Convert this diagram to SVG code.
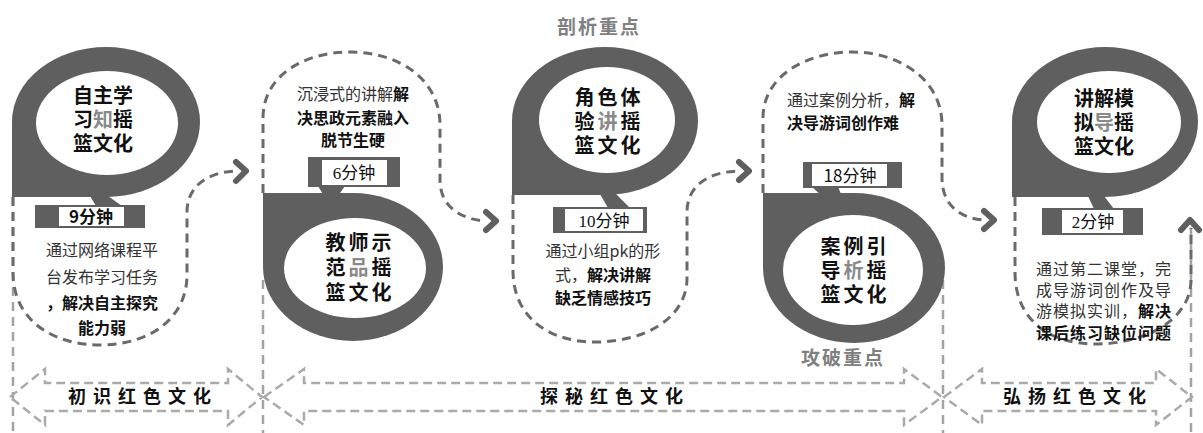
<svg xmlns="http://www.w3.org/2000/svg" width="1203" height="433" viewBox="0 0 1203 433">
<style>
text{font-family:"Noto Sans CJK SC","Noto Sans",sans-serif;}
.pin{fill:#5f5f5f;}
.hole{fill:#fff;}
.title{font-size:20px;font-weight:bold;fill:#111;text-anchor:middle;}
.mid{fill:#8a8a8a;}
.desc{font-size:16px;fill:#333;text-anchor:middle;}
.start{text-anchor:start;}
.b{font-weight:bold;fill:#111;}
.time{font-size:17px;fill:#111;text-anchor:middle;}
.serif{font-family:"Liberation Serif","Noto Sans CJK SC",serif;}
.tbox{fill:#5f5f5f;}
.twhite{fill:#fff;}
.conn{fill:none;stroke:#6a6a6a;stroke-width:3;stroke-dasharray:9 6;}
.chev{fill:none;stroke:#5f5f5f;stroke-width:6;stroke-linecap:round;stroke-linejoin:round;}
.div{fill:none;stroke:#a3a3a3;stroke-width:2.5;stroke-dasharray:9 6;}
.band{fill:none;stroke:#aaaaaa;stroke-width:2.5;stroke-dasharray:9 5;}
.blabel{font-size:18px;font-weight:bold;fill:#111;text-anchor:middle;letter-spacing:7px;}
.key{font-size:19px;font-weight:bold;fill:#808080;text-anchor:middle;letter-spacing:2px;}
</style>

<g id="connectors">
  <path class="div" d="M13 197 V433"/>
  <path class="div" d="M263 280 V433"/>
  <path class="div" d="M943 280 V433"/>
  <path class="div" d="M1191 228 V433"/>
  <path class="conn" d="M13 197 L13 272 C13 322 55 345 100 345 C150 345 187 318 187 275 L187 212 C187 186 208 172 236 171"/>
  <polyline class="chev" points="236,162 246,171 236,181"/>
  <path class="conn" d="M263 193 L263 118 C263 75 305 52 350 52 C400 52 440 80 440 125 L440 180 C440 206 460 219 485 221"/>
  <polyline class="chev" points="486,212 496,221 486,230"/>
  <path class="conn" d="M513 195 L513 270 C513 320 552 342 595 342 C645 342 687 318 687 278 L687 212 C687 186 708 172 738 171"/>
  <polyline class="chev" points="739,162 749,171 739,180"/>
  <path class="conn" d="M763 193 L763 118 C763 75 808 52 852 52 C900 52 942 80 942 125 L942 178 C942 205 960 218 983 220"/>
  <polyline class="chev" points="984,211 994,220 984,229"/>
  <path class="conn" d="M1015 197 L1015 272 C1015 322 1052 344 1095 344 C1148 344 1191 318 1191 280 L1191 228"/>
  <polyline class="chev" points="1181,230 1190,220 1199,230"/>
  <path class="band" d="M10 397 L45 369 L45 383 L228 383 L228 369 L262 397 L228 425 L228 411 L45 411 L45 425 Z"/>
  <path class="band" d="M264 397 L304 369 L304 383 L904 383 L904 369 L942 397 L904 425 L904 411 L304 411 L304 425 Z"/>
  <path class="band" d="M944 397 L982 369 L982 383 L1156 383 L1156 369 L1192 397 L1156 425 L1156 411 L982 411 L982 425 Z"/>
</g>

<g id="stage1">
  <text class="blabel" x="143" y="403">初识红色文化</text>
</g>
<g id="stage2">
  <text class="blabel" x="615" y="403">探秘红色文化</text>
</g>
<g id="stage3">
  <text class="blabel" x="1078" y="403">弘扬红色文化</text>
</g>

<g id="key1">
  <text class="key" x="599" y="34">剖析重点</text>
</g>
<g id="key2">
  <text class="key" x="843" y="365">攻破重点</text>
</g>

<g id="node1">
  <path class="pin" d="M12 122 L12 197 L106 197 A94 75 0 1 0 12 122 Z"/>
  <ellipse class="hole" cx="107" cy="123" rx="71" ry="52"/>
  <text class="title" x="103" y="103">自主学</text>
  <text class="title" x="103" y="127">习<tspan class="mid">知</tspan>摇</text>
  <text class="title" x="103" y="151">篮文化</text>
  <polygon class="tbox" points="90,196 108,196 122,206 96,206"/>
  <rect class="tbox" x="35" y="205" width="110" height="23"/>
  <rect class="twhite" x="59" y="207" width="65" height="19"/>
  <text class="time" x="91" y="223" font-weight="bold">9分钟</text>
  <text class="desc" x="102" y="256">通过网络课程平</text>
  <text class="desc" x="102" y="283">台发布学习任务</text>
  <text class="desc b" x="102" y="309">，解决自主探究</text>
  <text class="desc b" x="102" y="334">能力弱</text>
</g>

<g id="node2">
  <text class="desc" x="353" y="100">沉浸式的讲解<tspan class="b">解</tspan></text>
  <text class="desc b" x="353" y="124">决思政元素融入</text>
  <text class="desc b" x="353" y="146">脱节生硬</text>
  <rect class="tbox" x="308" y="157" width="92" height="30"/>
  <rect class="twhite" x="322" y="160" width="65" height="25"/>
  <text class="time serif" x="354" y="179">6分钟</text>
  <polygon class="tbox" points="318,186 345,186 338,196 324,196"/>
  <path class="pin" d="M263 267 L263 193 L353 193 A90 74 0 1 1 263 267 Z"/>
  <ellipse class="hole" cx="355" cy="268" rx="71" ry="50"/>
  <text class="title" x="360" y="250" letter-spacing="3">教师示</text>
  <text class="title" x="360" y="275" letter-spacing="3">范<tspan class="mid">品</tspan>摇</text>
  <text class="title" x="360" y="300" letter-spacing="3">篮文化</text>
</g>

<g id="node3">
  <path class="pin" d="M512 121 L512 195 L605 195 A93 74 0 1 0 512 121 Z"/>
  <ellipse class="hole" cx="607" cy="120" rx="68" ry="53"/>
  <text class="title" x="609" y="105" letter-spacing="3">角色体</text>
  <text class="title" x="609" y="129" letter-spacing="3">验<tspan class="mid">讲</tspan>摇</text>
  <text class="title" x="609" y="153" letter-spacing="3">篮文化</text>
  <polygon class="tbox" points="600,194 616,194 630,208 608,208"/>
  <rect class="tbox" x="553" y="207" width="94" height="26"/>
  <rect class="twhite" x="565" y="209" width="78" height="22"/>
  <text class="time serif" x="604" y="227">10分钟</text>
  <text class="desc" x="603" y="257">通过小组pk的形</text>
  <text class="desc" x="603" y="281">式，<tspan class="b">解决讲解</tspan></text>
  <text class="desc b" x="603" y="304">缺乏情感技巧</text>
</g>

<g id="node4">
  <text class="desc start" x="787" y="106">通过案例分析，<tspan class="b">解</tspan></text>
  <text class="desc b start" x="787" y="129">决导游词创作难</text>
  <rect class="tbox" x="803" y="162" width="99" height="26"/>
  <rect class="twhite" x="812" y="164" width="75" height="22"/>
  <text class="time" x="850" y="182">18分钟</text>
  <polygon class="tbox" points="812,187 838,187 842,196 822,196"/>
  <path class="pin" d="M763 268 L763 193 L854 193 A91 75 0 1 1 763 268 Z"/>
  <ellipse class="hole" cx="853" cy="270" rx="70" ry="55"/>
  <text class="title" x="855" y="254" letter-spacing="3">案例引</text>
  <text class="title" x="855" y="278" letter-spacing="3">导<tspan class="mid">析</tspan>摇</text>
  <text class="title" x="855" y="302" letter-spacing="3">篮文化</text>
</g>

<g id="node5">
  <path class="pin" d="M1012 122 L1012 197 L1105 197 A93 75 0 1 0 1012 122 Z"/>
  <ellipse class="hole" cx="1109" cy="122" rx="72" ry="51"/>
  <text class="title" x="1104" y="106">讲解模</text>
  <text class="title" x="1104" y="130">拟<tspan class="mid">导</tspan>摇</text>
  <text class="title" x="1104" y="154">篮文化</text>
  <polygon class="tbox" points="1088,196 1104,196 1114,209 1094,209"/>
  <rect class="tbox" x="1042" y="208" width="101" height="27"/>
  <rect class="twhite" x="1062" y="210" width="61" height="23"/>
  <text class="time serif" x="1093" y="228">2分钟</text>
  <text class="desc" x="1104" y="275" letter-spacing="1">通过第二课堂，完</text>
  <text class="desc" x="1104" y="296" letter-spacing="1">成导游词创作及导</text>
  <text class="desc" x="1104" y="317" letter-spacing="1">游模拟实训，<tspan class="b">解决</tspan></text>
  <text class="desc b" x="1104" y="339" letter-spacing="1">课后练习缺位问题</text>
</g>
</svg>
